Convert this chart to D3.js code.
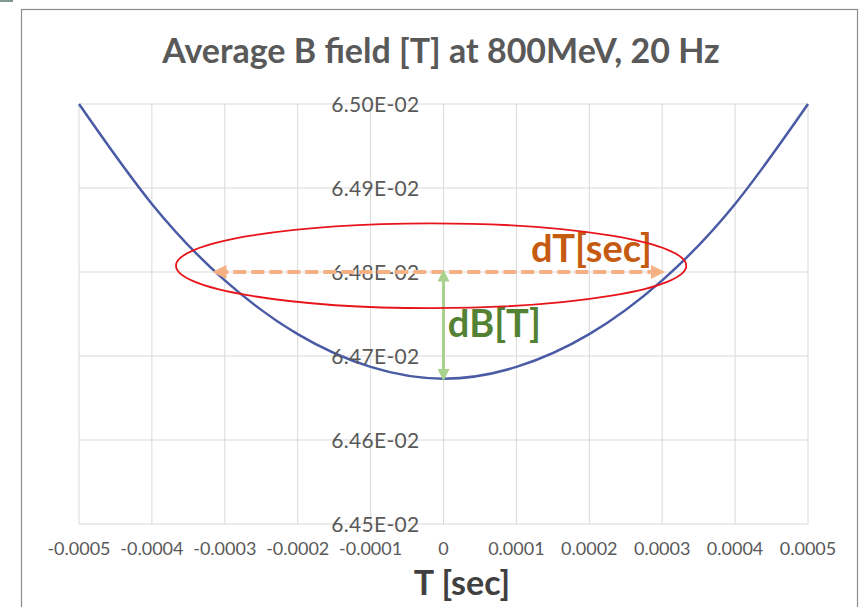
<!doctype html>
<html lang="en">
  <head>
    <meta charset="utf-8">
    <title>Average B field at 800MeV, 20 Hz</title>
    <script src="https://d3js.org/d3.v7.min.js"></script>
    <style>
      body { margin: 0; background: #fff; }
      text { font-family: Lato, "Open Sans", sans-serif; }
    </style>
  </head>
  <body>
    <div id="container"></div>
  <script>
    // values
    const timeTicks = [-0.0005, -0.0004, -0.0003, -0.0002, -0.0001, 0, 0.0001, 0.0002, 0.0003, 0.0004, 0.0005]
    const fieldValues = [0.065000, 0.064881, 0.064790, 0.064726, 0.064687, 0.064673, 0.064687, 0.064726, 0.064790, 0.064881, 0.065000]
    const fieldTicks = [0.0645, 0.0646, 0.0647, 0.0648, 0.0649, 0.0650]
    const xTickLabels = ["-0.0005", "-0.0004", "-0.0003", "-0.0002", "-0.0001", "0", "0.0001", "0.0002", "0.0003", "0.0004", "0.0005"]
    const yTickLabels = ["6.45E-02", "6.46E-02", "6.47E-02", "6.48E-02", "6.49E-02", "6.50E-02"]

    // annotations (data units)
    const dtLevel = 0.0648
    const dtRange = [-0.000313, 0.000300]
    const dbRange = [0.0648, 0.064673]
    const ellipseT = [-0.000367, 0.000333]
    const ellipseB = [0.064757, 0.064858]

    const width = 863
    const height = 607
    const margin = {top: 104, right: 55, bottom: 83, left: 79}

    const svg = d3.select("#container")
      .append("svg")
        .attr("width", width)
        .attr("height", height)

    const x = d3.scaleLinear().domain([-0.0005, 0.0005]).range([margin.left, width - margin.right])
    const y = d3.scaleLinear().domain([0.0645, 0.0650]).range([height - margin.bottom, margin.top])

    // little leftover strip in the top corner of the screenshot
    svg.append("rect")
      .attr("x", 0).attr("y", 0)
      .attr("width", 13).attr("height", 2)
      .attr("fill", "#7f9b91")

    // outer chart frame
    svg.append("rect")
      .attr("x", 21.5).attr("y", 9.5)
      .attr("width", 836).attr("height", 640)
      .attr("fill", "none")
      .attr("stroke", "#8c8c8c")
      .attr("stroke-width", 1.2)

    // title
    svg.append("text")
      .attr("x", 441).attr("y", 63)
      .attr("text-anchor", "middle")
      .attr("font-size", 34)
      .attr("font-weight", "bold")
      .attr("fill", "#595959")
      .text("Average B field [T] at 800MeV, 20 Hz")

    // gridlines
    svg.append("g").selectAll("line").data(timeTicks).join("line")
      .attr("x1", d => x(d)).attr("x2", d => x(d))
      .attr("y1", y(0.0650)).attr("y2", y(0.0645))
      .attr("stroke", "#d9d9d9").attr("stroke-width", 1)
    svg.append("g").selectAll("line").data(fieldTicks).join("line")
      .attr("x1", x(-0.0005)).attr("x2", x(0.0005))
      .attr("y1", d => y(d)).attr("y2", d => y(d))
      .attr("stroke", "#d9d9d9").attr("stroke-width", 1)

    // x tick labels
    svg.append("g").selectAll("text").data(timeTicks).join("text")
      .attr("x", d => x(d)).attr("y", 555)
      .attr("text-anchor", "middle")
      .attr("font-size", 18)
      .attr("fill", "#595959")
      .text((d, i) => xTickLabels[i])

    // curve
    const line = d3.line()
      .x(d => x(d[0]))
      .y(d => y(d[1]))
      .curve(d3.curveNatural)
    svg.append("path")
      .datum(timeTicks.map((t, i) => [t, fieldValues[i]]))
      .attr("d", line)
      .attr("fill", "none")
      .attr("stroke", "#4a5ba6")
      .attr("stroke-width", 2.5)

    // y tick labels (axis crosses at T = 0)
    svg.append("g").selectAll("text").data(fieldTicks).join("text")
      .attr("x", x(0) - 24).attr("y", d => y(d) + 8)
      .attr("text-anchor", "end")
      .attr("font-size", 21)
      .attr("letter-spacing", 0.3)
      .attr("fill", "#595959")
      .text((d, i) => yTickLabels[i])

    // axis title
    svg.append("text")
      .attr("x", 462).attr("y", 595)
      .attr("text-anchor", "middle")
      .attr("font-size", 34)
      .attr("font-weight", "bold")
      .attr("fill", "#404040")
      .text("T [sec]")

    // arrow markers
    const defs = svg.append("defs")
    function marker(id, color, w, h) {
      defs.append("marker")
        .attr("id", id)
        .attr("viewBox", "0 0 10 10")
        .attr("refX", 8).attr("refY", 5)
        .attr("markerWidth", w).attr("markerHeight", h)
        .attr("markerUnits", "userSpaceOnUse")
        .attr("orient", "auto-start-reverse")
        .append("path")
          .attr("d", "M0,0L10,5L0,10Z")
          .attr("fill", color)
    }
    marker("orangeHead", "#f4b183", 14, 14)
    marker("greenHead", "#a9d18e", 12, 12)

    // dT arrow
    svg.append("line")
      .attr("x1", x(dtRange[0])).attr("x2", x(dtRange[1]))
      .attr("y1", y(dtLevel)).attr("y2", y(dtLevel))
      .attr("stroke", "#f4b183")
      .attr("stroke-width", 4)
      .attr("stroke-dasharray", "13,5")
      .attr("marker-start", "url(#orangeHead)")
      .attr("marker-end", "url(#orangeHead)")

    // dB arrow
    svg.append("line")
      .attr("x1", x(0)).attr("x2", x(0))
      .attr("y1", y(dbRange[0])).attr("y2", y(dbRange[1]))
      .attr("stroke", "#a9d18e")
      .attr("stroke-width", 3)
      .attr("marker-start", "url(#greenHead)")
      .attr("marker-end", "url(#greenHead)")

    svg.append("text")
      .attr("x", x(0.000286)).attr("y", 262)
      .attr("text-anchor", "end")
      .attr("font-size", 38)
      .attr("font-weight", "bold")
      .attr("fill", "#c55a11")
      .text("dT[sec]")

    svg.append("text")
      .attr("x", x(0.000006)).attr("y", 337)
      .attr("font-size", 38)
      .attr("font-weight", "bold")
      .attr("fill", "#548235")
      .text("dB[T]")

    // red ellipse
    svg.append("ellipse")
      .attr("cx", (x(ellipseT[0]) + x(ellipseT[1])) / 2)
      .attr("cy", (y(ellipseB[0]) + y(ellipseB[1])) / 2)
      .attr("rx", (x(ellipseT[1]) - x(ellipseT[0])) / 2)
      .attr("ry", (y(ellipseB[0]) - y(ellipseB[1])) / 2)
      .attr("fill", "none")
      .attr("stroke", "#e8141b")
      .attr("stroke-width", 1.8)
  </script>
  </body>
</html>
